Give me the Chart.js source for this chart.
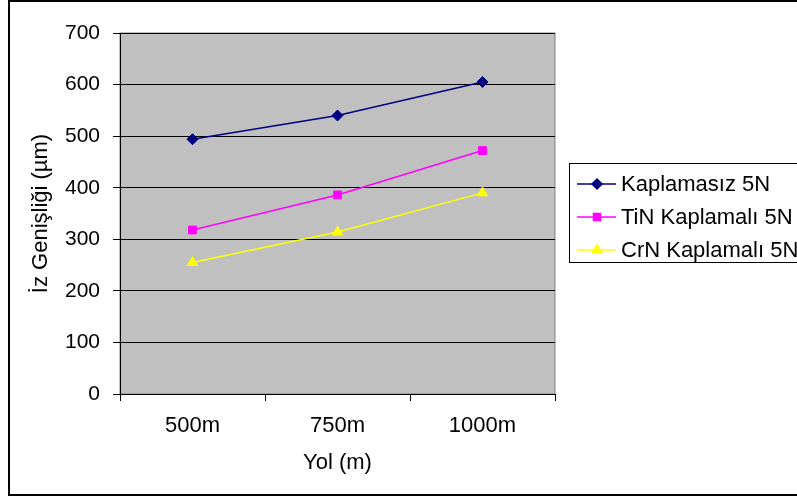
<!DOCTYPE html>
<html>
<head>
<meta charset="utf-8">
<script src="https://cdn.jsdelivr.net/npm/chart.js"></script>
<style>
  html, body { margin: 0; padding: 0; background: #fff; }
  #wrap { width: 797px; height: 498px; }
</style>
</head>
<body>
<div id="wrap"><canvas id="chart" width="797" height="498"></canvas></div>
<script>
// x categories and series
const distances = ["500m", "750m", "1000m"];
const uncoated = [494, 540, 605];
const tinCoated = [318, 386, 472];
const crnCoated = [255, 314, 390];

const seriesNames = ["Kaplamasız 5N", "TiN Kaplamalı 5N", "CrN Kaplamalı 5N"];
const yTitle = "İz Genişliği (µm)";
const xTitle = "Yol (m)";

const FONT = "'Liberation Sans', Arial, sans-serif";

// gray plot area, outer frame and the boxed legend on the right
const decor = {
    id: "decor",
    beforeDraw(chart) {
        const ctx = chart.ctx;
        const a = chart.chartArea;
        ctx.save();
        ctx.fillStyle = "#ffffff";
        ctx.fillRect(0, 0, chart.width, chart.height);
        ctx.fillStyle = "#c0c0c0";
        ctx.fillRect(a.left, a.top, a.right - a.left, a.bottom - a.top);
        ctx.strokeStyle = "#808080";
        ctx.lineWidth = 1;
        ctx.strokeRect(a.left, a.top, a.right - a.left, a.bottom - a.top);
        // outer frame (right side runs off the picture)
        ctx.strokeStyle = "#000";
        ctx.lineWidth = 2;
        ctx.strokeRect(9, 1, 800, 494);
        ctx.restore();
    },
    afterDraw(chart) {
        const ctx = chart.ctx;
        ctx.save();
        ctx.fillStyle = "#fff";
        ctx.fillRect(569.5, 163.5, 240, 99);
        ctx.strokeStyle = "#000";
        ctx.lineWidth = 1;
        ctx.strokeRect(569.5, 163.5, 240, 99);
        ctx.font = "22px " + FONT;
        ctx.textBaseline = "middle";
        ctx.textAlign = "left";
        chart.data.datasets.forEach((ds, i) => {
            const y = 184 + i * 33;
            ctx.strokeStyle = ds.borderColor;
            ctx.lineWidth = 1.5;
            ctx.beginPath();
            ctx.moveTo(577, y);
            ctx.lineTo(616, y);
            ctx.stroke();
            ctx.fillStyle = ds.pointBackgroundColor;
            ctx.strokeStyle = ds.pointBorderColor;
            Chart.helpers.drawPoint(ctx, {
                pointStyle: ds.pointStyle,
                radius: ds.pointRadius - 0.5,
                rotation: 0,
                borderWidth: 1
            }, 597, y);
            ctx.fillStyle = "#000";
            ctx.fillText(ds.label, 621, y + 1);
        });
        ctx.restore();
    }
};

function makeSet(label, data, color, style, r) {
    return {
        label: label,
        data: data,
        borderColor: color,
        backgroundColor: color,
        pointBackgroundColor: color,
        pointBorderColor: color,
        pointStyle: style,
        pointRadius: r,
        pointBorderWidth: 1,
        borderWidth: 1.5,
        tension: 0
    };
}

new Chart(document.getElementById("chart").getContext("2d"), {
    type: "line",
    data: {
        labels: distances,
        datasets: [
            makeSet(seriesNames[0], uncoated, "#000080", "rectRot", 5.5),
            makeSet(seriesNames[1], tinCoated, "#ff00ff", "rect", 5.5),
            makeSet(seriesNames[2], crnCoated, "#ffff00", "triangle", 6)
        ]
    },
    options: {
        responsive: false,
        animation: false,
        layout: { padding: { left: 8, top: 33, right: 242, bottom: 0 } },
        plugins: {
            legend: { display: false },
            tooltip: { enabled: false }
        },
        scales: {
            x: {
                offset: true,
                afterFit(scale) { scale.height = 104; },
                grid: {
                    offset: true,
                    drawOnChartArea: false,
                    drawTicks: true,
                    tickLength: 7,
                    color: "#000"
                },
                border: { display: true, color: "#000", width: 1 },
                ticks: {
                    color: "#000",
                    padding: 12,
                    font: { family: FONT, size: 22 },
                    maxRotation: 0
                },
                title: {
                    display: true,
                    text: xTitle,
                    color: "#000",
                    padding: { top: 0, bottom: 22 },
                    font: { family: FONT, size: 22 }
                }
            },
            y: {
                min: 0,
                max: 700,
                afterFit(scale) { scale.width = 112; },
                ticks: {
                    stepSize: 100,
                    color: "#000",
                    padding: 13,
                    font: { family: FONT, size: 21 }
                },
                grid: {
                    color: "#000",
                    lineWidth: 1,
                    drawTicks: true,
                    tickLength: 7
                },
                border: { display: true, color: "#000", width: 1 },
                title: {
                    display: true,
                    text: yTitle,
                    color: "#000",
                    padding: { top: 20, bottom: 0 },
                    font: { family: FONT, size: 22 }
                }
            }
        }
    },
    plugins: [decor]
});
</script>
</body>
</html>
